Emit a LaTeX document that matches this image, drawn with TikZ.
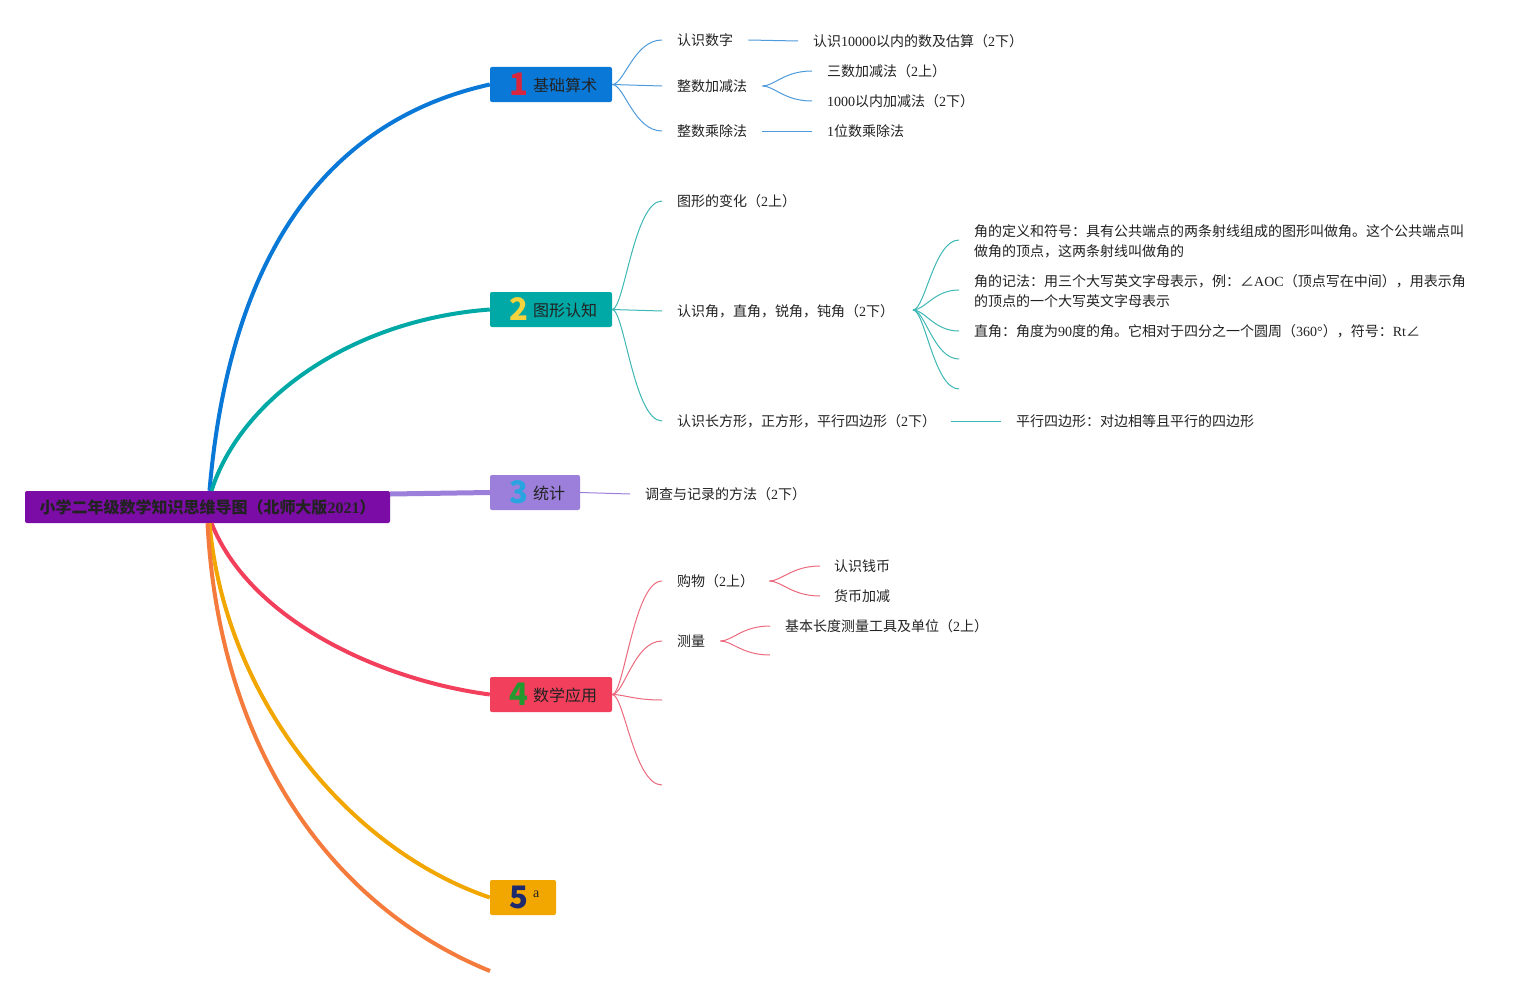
\documentclass[tikz,border=0pt]{standalone}
\usepackage{fontspec}
\setmainfont{Noto Sans CJK SC}
\newfontfamily\latinf{Liberation Serif}
\newcommand\ltn[1]{{\latinf #1}}
\definecolor{rootc}{HTML}{7C0CA6}
\definecolor{cA}{HTML}{0A78D7}
\definecolor{cB}{HTML}{00A9A5}
\definecolor{cC}{HTML}{9C7FDB}
\definecolor{cD}{HTML}{F23F5C}
\definecolor{cE}{HTML}{F2A600}
\definecolor{cF}{HTML}{F47B3B}
\definecolor{lA}{HTML}{4E9BDB}
\definecolor{lB}{HTML}{3DB8B5}
\definecolor{lC}{HTML}{9C7FDB}
\definecolor{lD}{HTML}{EC6A7E}
\definecolor{nA}{HTML}{D7263D}
\definecolor{nB}{HTML}{F4D33E}
\definecolor{nC}{HTML}{2AA4E0}
\definecolor{nD}{HTML}{229A2F}
\definecolor{nE}{HTML}{1D2A6E}
\definecolor{txtc}{HTML}{222222}
\tikzset{
  box/.style={rectangle, rounded corners=2pt, inner sep=0pt, draw=none},
  lbl/.style={anchor=west, inner sep=0pt, text=txtc, font=\fontsize{14}{20}\selectfont, align=left},
  btxt/.style={anchor=west, inner sep=0pt, text=txtc, font=\fontsize{16}{16}\selectfont},
  bnum/.style={anchor=center, inner sep=0pt, font=\bfseries\fontsize{31}{31}\selectfont},
  mainline/.style={line width=4pt},
  subline/.style={line width=1pt},
}
\begin{document}
\begin{tikzpicture}[x=1pt,y=-1pt]
\useasboundingbox (0,0) rectangle (1534,998);
\fill[white] (0,0) rectangle (1534,998);

% root
\node[box, fill=rootc, minimum width=365pt, minimum height=32pt, text=txtc,
      font=\bfseries\fontsize{16}{16}\selectfont] (root) at (207.5,507)
      {小学二年级数学知识思维导图（北师大版\ltn{2021}）};

% branch boxes
\node[box, fill=cA, minimum width=122pt, minimum height=35pt] (b1) at (551,84.5) {};
\node[bnum, text=nA] (b1n) at (519,84) {1};
\node[btxt] (b1t) at (533,85) {基础算术};

\node[box, fill=cB, minimum width=122pt, minimum height=35pt] (b2) at (551,309.5) {};
\node[bnum, text=nB] (b2n) at (518.5,309) {2};
\node[btxt] (b2t) at (533,310) {图形认知};

\node[box, fill=cC, minimum width=90pt, minimum height=35pt] (b3) at (535,492.5) {};
\node[bnum, text=nC] (b3n) at (518.5,492) {3};
\node[btxt] (b3t) at (533,493) {统计};

\node[box, fill=cD, minimum width=122pt, minimum height=35pt] (b4) at (551,694.5) {};
\node[bnum, text=nD] (b4n) at (518.5,694) {4};
\node[btxt] (b4t) at (533,695) {数学应用};

\node[box, fill=cE, minimum width=66pt, minimum height=35pt] (b5) at (523,897.5) {};
\node[bnum, text=nE] (b5n) at (518.5,897) {5};
\node[anchor=west, inner sep=0pt, text=txtc, font=\latinf\fontsize{14}{14}\selectfont] (b5t) at (533,894) {a};

\coordinate (e6) at (490,971);

% main branches
\draw[mainline, cA] ([xshift=2pt]root.north) .. controls (230,250) and (330,120) .. (b1.west);
\draw[mainline, cB] ([xshift=4pt]root.north) .. controls (240,400) and (350,320) .. (b2.west);
\draw[line width=5pt, cC] ([yshift=13pt]root.east) -- (b3.west);
\draw[mainline, cD] ([xshift=4pt]root.south) .. controls (250,620) and (380,680) .. (b4.west);
\draw[mainline, cE] ([xshift=2pt]root.south) .. controls (225,700) and (350,850) .. (b5.west);
\draw[mainline, cF] ([xshift=0pt]root.south) .. controls (220,760) and (340,910) .. (e6);

% branch 1 texts
\node[lbl] (s11) at (677,40) {认识数字};
\node[lbl] (s12) at (677,86) {整数加减法};
\node[lbl] (s13) at (677,131) {整数乘除法};
\node[lbl] (s14) at (813,41) {认识\ltn{10000}以内的数及估算（\ltn{2}下）};
\node[lbl] (s15) at (827,71) {三数加减法（\ltn{2}上）};
\node[lbl] (s16) at (827,101) {\ltn{1000}以内加减法（\ltn{2}下）};
\node[lbl] (s17) at (827,131) {\ltn{1}位数乘除法};

\draw[subline, lA] (b1.east) .. controls +(12,0) and +(-28,0) .. ([xshift=-15pt]s11.west);
\draw[subline, lA] (b1.east) -- ([xshift=-15pt]s12.west);
\draw[subline, lA] (b1.east) .. controls +(12,0) and +(-28,0) .. ([xshift=-15pt]s13.west);
\draw[subline, lA] ([xshift=15pt]s11.east) -- ([xshift=-15pt]s14.west);
\draw[subline, lA] ([xshift=15pt]s12.east) .. controls +(12,0) and +(-28,0) .. ([xshift=-15pt]s15.west);
\draw[subline, lA] ([xshift=15pt]s12.east) .. controls +(12,0) and +(-28,0) .. ([xshift=-15pt]s16.west);
\draw[subline, lA] ([xshift=15pt]s13.east) -- ([xshift=-15pt]s17.west);

% branch 2 texts
\node[lbl] (s21) at (677,201) {图形的变化（\ltn{2}上）};
\node[lbl] (s22) at (677,311) {认识角，直角，锐角，钝角（\ltn{2}下）};
\node[lbl] (s23) at (677,421) {认识长方形，正方形，平行四边形（\ltn{2}下）};
\node[lbl] (s24) at (1016,421) {平行四边形：对边相等且平行的四边形};
\node[lbl] (s25) at (974,241) {角的定义和符号：具有公共端点的两条射线组成的图形叫做角。这个公共端点叫\\做角的顶点，这两条射线叫做角的};
\node[lbl] (s26) at (974,291) {角的记法：用三个大写英文字母表示，例：∠\ltn{AOC}（顶点写在中间），用表示角\\的顶点的一个大写英文字母表示};
\node[lbl] (s27) at (974,331) {直角：角度为\ltn{90}度的角。它相对于四分之一个圆周（\ltn{360°}），符号：\ltn{Rt}∠};
\coordinate (f2) at (913,310);
\coordinate (e24) at (959,359);
\coordinate (e25) at (959,389);

\draw[subline, lB] (b2.east) .. controls +(12,0) and +(-28,0) .. ([xshift=-15pt]s21.west);
\draw[subline, lB] (b2.east) -- ([xshift=-15pt]s22.west);
\draw[subline, lB] (b2.east) .. controls +(12,0) and +(-28,0) .. ([xshift=-15pt]s23.west);
\draw[subline, lB] ([xshift=15pt]s23.east) -- ([xshift=-15pt]s24.west);
\draw[subline, lB] (f2) .. controls +(12,0) and +(-25,0) .. ([xshift=-15pt,yshift=1pt]s25.west);
\draw[subline, lB] (f2) .. controls +(12,0) and +(-25,0) .. ([xshift=-15pt,yshift=1pt]s26.west);
\draw[subline, lB] (f2) .. controls +(12,0) and +(-25,0) .. ([xshift=-15pt]s27.west);
\draw[subline, lB] (f2) .. controls +(12,0) and +(-25,0) .. (e24);
\draw[subline, lB] (f2) .. controls +(12,0) and +(-25,0) .. (e25);

% branch 3
\node[lbl] (s31) at (645,494) {调查与记录的方法（\ltn{2}下）};
\draw[subline, lC] (b3.east) -- ([xshift=-15pt]s31.west);

% branch 4
\node[lbl] (s41) at (677,581) {购物（\ltn{2}上）};
\node[lbl] (s42) at (677,641) {测量};
\node[lbl] (s43) at (834,566) {认识钱币};
\node[lbl] (s44) at (834,596) {货币加减};
\node[lbl] (s45) at (785,626) {基本长度测量工具及单位（\ltn{2}上）};
\coordinate (e43) at (662,700);
\coordinate (e44) at (662,785);
\coordinate (e46) at (770,655);

\draw[subline, lD] (b4.east) .. controls +(12,0) and +(-28,0) .. ([xshift=-15pt]s41.west);
\draw[subline, lD] (b4.east) .. controls +(12,0) and +(-28,0) .. ([xshift=-15pt]s42.west);
\draw[subline, lD] (b4.east) .. controls +(12,0) and +(-28,0) .. (e43);
\draw[subline, lD] (b4.east) .. controls +(12,0) and +(-28,0) .. (e44);
\draw[subline, lD] ([xshift=15pt]s41.east) .. controls +(12,0) and +(-28,0) .. ([xshift=-14pt]s43.west);
\draw[subline, lD] ([xshift=15pt]s41.east) .. controls +(12,0) and +(-28,0) .. ([xshift=-14pt]s44.west);
\draw[subline, lD] ([xshift=15pt]s42.east) .. controls +(12,0) and +(-28,0) .. ([xshift=-15pt]s45.west);
\draw[subline, lD] ([xshift=15pt]s42.east) .. controls +(12,0) and +(-28,0) .. (e46);
\end{tikzpicture}
\end{document}
